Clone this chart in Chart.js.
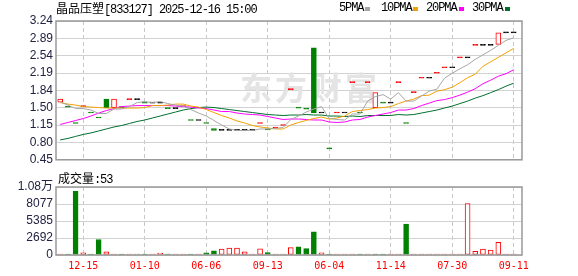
<!DOCTYPE html>
<html>
<head>
<meta charset="utf-8">
<script src="https://cdn.jsdelivr.net/npm/chart.js@4.4.0/dist/chart.umd.min.js"></script>
<style>
body { margin: 0; background: #fff; width: 578px; height: 276px; position: relative; overflow: hidden; }
canvas { position: absolute; left: 0; }
#price { top: 0; }
#vol { top: 170px; }
.t { position: absolute; white-space: nowrap; color: #000; line-height: 14px; height: 14px; }
.cjk { font-family: "Noto Sans CJK SC"; font-size: 12px; }
.m { font-family: "Liberation Mono"; font-size: 12px; letter-spacing: -1.1px; }
.sq { position: absolute; width: 5px; height: 4px; top: 7px; }
</style>
</head>
<body>
<canvas id="price" width="578" height="170"></canvas>
<canvas id="vol" width="578" height="106"></canvas>
<div class="t" style="left:56px;top:1px"><span class="cjk">晶品压塑</span><span class="m">[833127] 2025-12-16 15:00</span></div>
<div class="t m" style="left:339px;top:1px">5PMA</div><div class="sq" style="left:365px;background:#a6a6a6"></div>
<div class="t m" style="left:381px;top:1px">10PMA</div><div class="sq" style="left:413px;background:#f2a100"></div>
<div class="t m" style="left:426px;top:1px">20PMA</div><div class="sq" style="left:459px;background:#ff00ff"></div>
<div class="t m" style="left:472px;top:1px">30PMA</div><div class="sq" style="left:505px;background:#006f2e"></div>
<div class="t" style="left:58px;top:171px"><span class="cjk">成交量</span><span class="m">:53</span></div>
<script>
// x-axis labels (shown under the volume pane) and the candle index they sit on
var dates = ['12-15', '01-10', '06-06', '09-13', '06-04', '11-14', '07-30', '09-11'];
var dateIdx = [3, 11, 19, 27, 35, 43, 51, 59];

var opens = [1.61, 1.51, 1.18, 1.52, 1.39, 1.29, 1.67, 1.50, 1.50, 1.66,
  1.66, 1.59, 1.59, 1.59, 1.48, 1.48, 1.52, 1.24, 1.24, 1.18,
  1.08, 1.04, 1.04, 1.04, 1.04, 1.04, 1.18, 1.05, 1.09, 1.14,
  1.86, 1.49, 1.47, 2.70, 1.39, 0.67, 1.39, 1.39, 2.00, 1.39,
  2.00, 1.50, 1.59, 1.59, 2.00, 1.18, 1.80, 2.09, 2.09, 2.19,
  2.30, 2.30, 2.50, 2.50, 2.75, 2.75, 2.75, 2.77, 3.00, 3.00];
var closes = [1.67, 1.51, 1.18, 1.52, 1.39, 1.29, 1.50, 1.67, 1.50, 1.66,
  1.66, 1.59, 1.59, 1.59, 1.48, 1.48, 1.52, 1.24, 1.24, 1.18,
  1.04, 1.04, 1.04, 1.04, 1.04, 1.04, 1.18, 1.05, 1.09, 1.14,
  1.86, 1.49, 1.47, 1.39, 1.39, 0.67, 1.39, 1.39, 2.00, 1.39,
  2.00, 1.80, 1.59, 1.59, 2.00, 1.18, 1.80, 2.09, 2.09, 2.19,
  2.30, 2.30, 2.50, 2.50, 2.75, 2.75, 2.75, 3.00, 3.00, 3.00];
var volumes = [60, 60, 10100, 330, 80, 2450, 500, 80, 60, 60,
  60, 80, 60, 300, 60, 60, 60, 60, 60, 350,
  660, 950, 1080, 1080, 520, 120, 960, 370, 100, 100,
  1170, 1310, 1000, 3660, 330, 80, 60, 60, 60, 60,
  60, 60, 60, 60, 60, 4890, 60, 60, 60, 60,
  60, 60, 60, 8130, 600, 930, 780, 2000, 60, 53];

var ma5 = [1.61, 1.55, 1.48, 1.48, 1.45, 1.38, 1.38, 1.47, 1.47, 1.52,
  1.60, 1.62, 1.60, 1.62, 1.58, 1.55, 1.53, 1.46, 1.39, 1.33,
  1.24, 1.15, 1.07, 1.04, 1.04, 1.04, 1.07, 1.07, 1.08, 1.10,
  1.26, 1.33, 1.41, 1.47, 1.52, 1.28, 1.26, 1.25, 1.37, 1.37,
  1.63, 1.72, 1.76, 1.67, 1.80, 1.63, 1.63, 1.73, 1.83, 1.87,
  2.09, 2.19, 2.28, 2.36, 2.47, 2.56, 2.65, 2.75, 2.85, 2.90];
var ma10 = [1.60, 1.57, 1.55, 1.52, 1.51, 1.50, 1.49, 1.49, 1.49, 1.49,
  1.49, 1.50, 1.54, 1.54, 1.55, 1.57, 1.57, 1.53, 1.51, 1.46,
  1.40, 1.34, 1.29, 1.23, 1.19, 1.14, 1.11, 1.09, 1.07, 1.07,
  1.15, 1.20, 1.24, 1.28, 1.31, 1.27, 1.29, 1.33, 1.42, 1.44,
  1.46, 1.49, 1.50, 1.52, 1.58, 1.63, 1.67, 1.74, 1.75, 1.83,
  1.86, 1.91, 2.00, 2.10, 2.17, 2.33, 2.42, 2.51, 2.60, 2.69];
var ma20 = [1.16, 1.20, 1.24, 1.28, 1.33, 1.39, 1.44, 1.48, 1.52, 1.53,
  1.54, 1.54, 1.54, 1.54, 1.54, 1.53, 1.52, 1.51, 1.49, 1.48,
  1.45, 1.42, 1.42, 1.39, 1.37, 1.36, 1.35, 1.32, 1.29, 1.26,
  1.27, 1.27, 1.26, 1.25, 1.25, 1.21, 1.20, 1.21, 1.25, 1.26,
  1.31, 1.34, 1.37, 1.40, 1.45, 1.45, 1.48, 1.54, 1.59, 1.64,
  1.66, 1.70, 1.75, 1.81, 1.88, 1.98, 2.05, 2.13, 2.18, 2.26];
var ma30 = [0.85, 0.88, 0.92, 0.96, 0.99, 1.03, 1.07, 1.11, 1.14, 1.18,
  1.22, 1.25, 1.29, 1.33, 1.37, 1.41, 1.45, 1.48, 1.50, 1.51,
  1.50, 1.48, 1.46, 1.44, 1.42, 1.40, 1.38, 1.36, 1.35, 1.34,
  1.35, 1.35, 1.36, 1.35, 1.35, 1.33, 1.33, 1.32, 1.33, 1.32,
  1.34, 1.34, 1.34, 1.34, 1.36, 1.35, 1.36, 1.39, 1.42, 1.45,
  1.49, 1.53, 1.58, 1.63, 1.69, 1.74, 1.80, 1.86, 1.93, 1.99];

var priceTicks = ['0.45', '0.80', '1.15', '1.50', '1.84', '2.19', '2.54', '2.89', '3.24'];
var priceMin = 0.45, priceMax = 3.24;
var volTicks = ['0', '2692', '5385', '8077', '1.08万'];
var volMax = 10770;

var RED = '#ff0000', GREEN = '#008000', BLACK = '#000000';
var xMin = -0.55, xMax = 60.08;

// up / down / flat, the way the quote site colours a day
function trend(i) {
  if (closes[i] > opens[i]) return 1;
  if (closes[i] < opens[i]) return -1;
  var prev = i > 0 ? closes[i - 1] : opens[i];
  return closes[i] > prev ? 1 : (closes[i] < prev ? -1 : 0);
}
function volUp(i) {
  var prev = i > 0 ? closes[i - 1] : opens[i];
  return closes[i] >= prev;
}
function xy(arr) {
  return arr.map(function (v, i) { return { x: i, y: v }; });
}

var frame = {
  id: 'frame',
  beforeDatasetsDraw: function (chart, args, opts) {
    if (!opts.mark) return;
    var ctx = chart.ctx;
    ctx.save();
    ctx.fillStyle = '#e4e4e4';
    ctx.font = 'bold 32px "Noto Sans CJK SC"';
    ctx.textBaseline = 'middle';
    var txt = '东方财富';
    for (var k = 0; k < txt.length; k++) ctx.fillText(txt[k], 240 + k * 35, 88);
    ctx.restore();
  },
  afterDraw: function (chart) {
    var a = chart.chartArea, ctx = chart.ctx;
    ctx.save();
    ctx.strokeStyle = '#999999';
    ctx.lineWidth = 1.5;
    ctx.strokeRect(a.left, a.top, a.right - a.left, a.bottom - a.top);
    ctx.restore();
  }
};

function lineSet(label, arr, color) {
  return { type: 'line', label: label, data: xy(arr), borderColor: color, borderWidth: 1,
    pointRadius: 0, tension: 0, fill: false, order: 0 };
}

var xGrid = { color: '#c8c8c8', drawTicks: false, offset: false };

new Chart(document.getElementById('price'), {
  type: 'bar',
  data: {
    datasets: [
      lineSet('5PMA', ma5, '#a6a6a6'),
      lineSet('10PMA', ma10, '#f2a100'),
      lineSet('20PMA', ma20, '#ff00ff'),
      lineSet('30PMA', ma30, '#006f2e'),
      {
        type: 'bar', label: 'K',
        data: opens.map(function (o, i) { return { x: i, y: [o, closes[i]] }; }),
        barThickness: 5, minBarLength: 1, borderWidth: 1, borderSkipped: false, order: 1,
        backgroundColor: function (c) {
          var i = c.dataIndex, t = trend(i);
          if (opens[i] !== closes[i]) return t > 0 ? '#ffffff' : GREEN;
          return t > 0 ? RED : (t < 0 ? GREEN : BLACK);
        },
        borderColor: function (c) {
          var t = trend(c.dataIndex);
          return t > 0 ? RED : (t < 0 ? GREEN : BLACK);
        }
      }
    ]
  },
  options: {
    responsive: false, animation: false, events: [],
    layout: { padding: { top: 21, right: 56, left: 0, bottom: 0 } },
    plugins: { legend: { display: false }, tooltip: { enabled: false }, frame: { mark: true } },
    scales: {
      x: {
        type: 'linear', min: xMin, max: xMax, offset: false,
        afterBuildTicks: function (s) { s.ticks = dateIdx.map(function (v) { return { value: v }; }); },
        afterFit: function (s) { s.height = 5; },
        ticks: { display: false },
        grid: xGrid,
        border: { display: false, dash: [4, 3] }
      },
      y: {
        min: priceMin, max: priceMax,
        afterBuildTicks: function (s) {
          s.ticks = priceTicks.map(function (t, k) {
            return { value: priceMin + k * (priceMax - priceMin) / (priceTicks.length - 1) };
          });
        },
        afterFit: function (s) { s.width = 56; },
        ticks: {
          callback: function (v, k) { return priceTicks[k]; }, autoSkip: false,
          font: { family: 'Liberation Sans', size: 12 }, color: '#222244', padding: 3
        },
        grid: { color: '#d2d2d2', drawTicks: false },
        border: { display: false }
      }
    }
  },
  plugins: [frame]
});

new Chart(document.getElementById('vol'), {
  type: 'bar',
  data: {
    datasets: [{
      label: '成交量',
      data: volumes.map(function (v, i) { return { x: i, y: v }; }),
      barThickness: 5, minBarLength: 1, borderWidth: 1, borderSkipped: false,
      backgroundColor: function (c) { return volUp(c.dataIndex) ? '#ffffff' : GREEN; },
      borderColor: function (c) { return volUp(c.dataIndex) ? RED : GREEN; }
    }]
  },
  options: {
    responsive: false, animation: false, events: [],
    layout: { padding: { top: 17, right: 56, left: 0, bottom: 0 } },
    plugins: { legend: { display: false }, tooltip: { enabled: false } },
    scales: {
      x: {
        type: 'linear', min: xMin, max: xMax, offset: false,
        afterBuildTicks: function (s) { s.ticks = dateIdx.map(function (v) { return { value: v }; }); },
        afterFit: function (s) { s.height = 21; },
        ticks: {
          callback: function (v, k) { return dates[k]; },
          autoSkip: false, maxRotation: 0, padding: 5,
          font: { family: 'DejaVu Sans Mono', size: 10 }, color: RED
        },
        grid: xGrid,
        border: { display: false, dash: [4, 3] }
      },
      y: {
        min: 0, max: volMax,
        afterBuildTicks: function (s) {
          s.ticks = volTicks.map(function (t, k) { return { value: k * volMax / (volTicks.length - 1) }; });
        },
        afterFit: function (s) { s.width = 56; },
        ticks: {
          callback: function (v, k) { return volTicks[k]; }, autoSkip: false,
          font: { family: 'Liberation Sans, Noto Sans CJK SC', size: 12 }, color: '#222244', padding: 3
        },
        grid: { color: '#d2d2d2', drawTicks: false },
        border: { display: false }
      }
    }
  },
  plugins: [frame]
});
</script>
</body>
</html>
